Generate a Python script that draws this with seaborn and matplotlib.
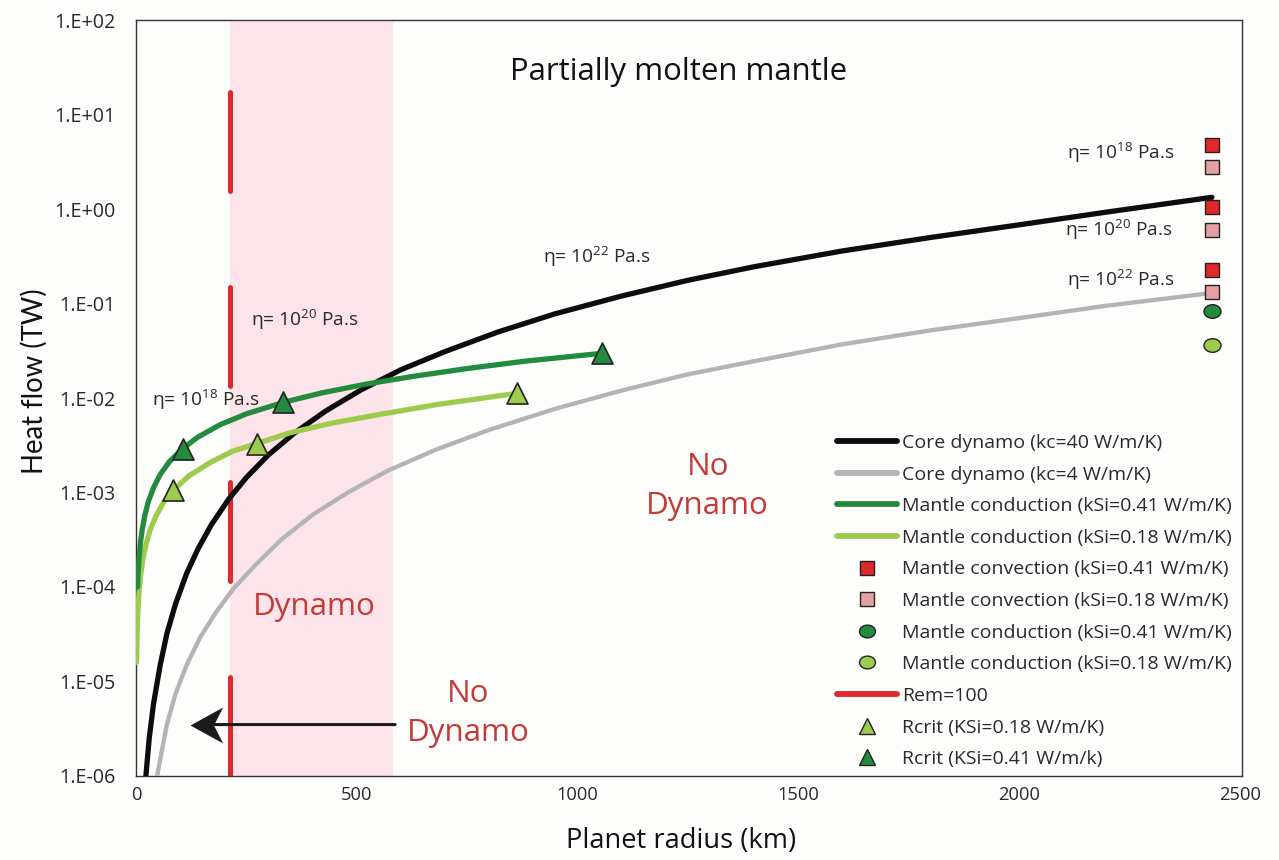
import numpy as np
import pandas as pd
import matplotlib
matplotlib.use("Agg")
import matplotlib.pyplot as plt
from matplotlib.lines import Line2D
from matplotlib.path import Path
from matplotlib.ticker import FixedLocator, FuncFormatter
import seaborn as sns

# ---- data -------------------------------------------------------------
# Core dynamo heat flow (TW) vs planet radius (km), kc = 40 W/m/K
core40_r = [20, 30, 40, 55, 70, 90, 115, 140, 170, 210, 250, 300, 360, 430, 510, 600,
            700, 820, 950, 1100, 1250, 1400, 1600, 1800, 2000, 2200, 2437]
core40_q = [7.4e-7, 2.5e-6, 5.9e-6, 1.5e-5, 3.2e-5, 6.7e-5, 1.4e-4, 2.5e-4, 4.5e-4,
            8.5e-4, 1.44e-3, 2.5e-3, 4.3e-3, 7.3e-3, 1.22e-2, 1.99e-2, 3.1e-2, 5.0e-2,
            7.8e-2, 0.12, 0.176, 0.245, 0.36, 0.50, 0.68, 0.93, 1.33]

# Core dynamo, kc = 4 W/m/K
core4_r = [45, 55, 70, 90, 115, 145, 180, 220, 270, 330, 400, 480, 570, 680, 800, 950,
           1100, 1250, 1400, 1600, 1800, 2000, 2200, 2430]
core4_q = [8.5e-7, 1.5e-6, 3.5e-6, 7.5e-6, 1.5e-5, 2.9e-5, 5.3e-5, 9.5e-5, 1.7e-4, 3.2e-4,
           5.8e-4, 1.0e-3, 1.7e-3, 2.85e-3, 4.6e-3, 7.7e-3, 1.2e-2, 1.78e-2, 2.45e-2,
           3.7e-2, 5.2e-2, 7.0e-2, 9.5e-2, 0.128]

# Mantle conduction, kSi = 0.41 W/m/K
cond41_r = [3.5, 5, 7, 10, 14, 20, 28, 40, 55, 75, 106, 140, 190, 250, 333, 420, 520, 630,
            750, 880, 1055]
cond41_q = [1.0e-4, 1.45e-4, 2.0e-4, 2.9e-4, 4.0e-4, 5.7e-4, 8.0e-4, 1.13e-3, 1.55e-3,
            2.1e-3, 2.92e-3, 3.85e-3, 5.2e-3, 6.8e-3, 8.97e-3, 1.13e-2, 1.4e-2, 1.7e-2,
            2.05e-2, 2.45e-2, 2.97e-2]

# Mantle conduction, kSi = 0.18 W/m/K
cond18_r = [1.3, 2, 3, 4.5, 7, 10, 15, 22, 32, 45, 62, 84, 120, 170, 220, 274, 350, 450,
            560, 680, 863]
cond18_q = [1.6e-5, 2.5e-5, 3.8e-5, 5.6e-5, 8.8e-5, 1.25e-4, 1.9e-4, 2.75e-4, 4.0e-4,
            5.6e-4, 7.8e-4, 1.05e-3, 1.5e-3, 2.1e-3, 2.75e-3, 3.3e-3, 4.3e-3, 5.5e-3,
            6.8e-3, 8.5e-3, 1.12e-2]

# Critical radius markers
rcrit18_r = [84, 274, 863]
rcrit18_q = [1.05e-3, 3.3e-3, 1.12e-2]
rcrit41_r = [106, 333, 1055]
rcrit41_q = [2.92e-3, 8.97e-3, 2.97e-2]

# Present-day planet (R = 2438 km): viscosity 1e18, 1e20, 1e22 Pa.s
planet_r = 2438
conv41_q = [4.74, 1.04, 0.225]
conv18_q = [2.77, 0.596, 0.131]
cond41_now_q = [0.0826]
cond18_now_q = [0.036]

# Magnetic Reynolds number Rem = 100 threshold
rem_r = 213
rem_q = [1.0e-6, 18.0]
# dynamo window
dyn_band = (213, 583)

y_ticks = [1e-6, 1e-5, 1e-4, 1e-3, 1e-2, 1e-1, 1e0, 1e1, 1e2]
x_ticks = [0, 500, 1000, 1500, 2000, 2500]

# ---- style ------------------------------------------------------------
sns.set_theme(style="white")
plt.rcParams["font.family"] = ["Open Sans", "DejaVu Sans"]
plt.rcParams["mathtext.fontset"] = "custom"
plt.rcParams["mathtext.rm"] = "Open Sans"
plt.rcParams["mathtext.it"] = "Open Sans:italic"
plt.rcParams["mathtext.bf"] = "Open Sans:bold"

BG = "#fdfdfb"
C_BLACK = "#0d0d0d"
C_GREY = "#b4b4b4"
C_DGREEN = "#238b3e"
C_LGREEN = "#9dcb4e"
C_RED = "#e0282a"
C_PINK = "#e6a0a3"
C_BAND = "#fce4ea"
C_TEXTRED = "#c23b37"
C_TEXT = "#2a2a2a"

fig = plt.figure(figsize=(12.79, 8.60), dpi=100, facecolor=BG)
ax = fig.add_axes([0.1063, 0.0977, 0.8647, 0.879])
ax.set_facecolor(BG)

ax.set_yscale("log")
ax.set_xlim(0, 2505)
ax.set_ylim(1e-6, 1e2)

ax.axvspan(*dyn_band, color=C_BAND, zorder=0, lw=0)

# Rem = 100 dashed vertical line
sns.lineplot(x=[rem_r, rem_r], y=rem_q, ax=ax, color=C_RED, lw=3.6,
             linestyle=(0, (19.8, 19.2)), dash_capstyle="round",
             sort=False, estimator=None, zorder=2)

# curves
for r, q, col, lw in [(core4_r, core4_q, C_GREY, 3.1),
                      (core40_r, core40_q, C_BLACK, 3.8),
                      (cond18_r, cond18_q, C_LGREEN, 3.8),
                      (cond41_r, cond41_q, C_DGREEN, 3.8)]:
    sns.lineplot(x=r, y=q, ax=ax, color=col, lw=lw, sort=False,
                 estimator=None, zorder=3, solid_capstyle="round",
                 solid_joinstyle="round")

# ellipse marker for present-day conduction values
ell = Path.unit_circle()
ell = Path(ell.vertices * np.array([1.25, 1.0]), ell.codes)

sq_kw = dict(marker="s", s=110, edgecolor="#222222", linewidth=1.0, zorder=5)
sns.scatterplot(x=[planet_r] * 3, y=conv41_q, ax=ax, color=C_RED, **sq_kw)
sns.scatterplot(x=[planet_r] * 3, y=conv18_q, ax=ax, color=C_PINK, **sq_kw)
ell_kw = dict(marker=ell, s=150, edgecolor="#222222", linewidth=1.0, zorder=5)
sns.scatterplot(x=[planet_r], y=cond41_now_q, ax=ax, color=C_DGREEN, **ell_kw)
sns.scatterplot(x=[planet_r], y=cond18_now_q, ax=ax, color=C_LGREEN, **ell_kw)

tri_kw = dict(marker="^", s=230, edgecolor="#222222", linewidth=1.2, zorder=6)
sns.scatterplot(x=rcrit18_r, y=rcrit18_q, ax=ax, color=C_LGREEN, **tri_kw)
sns.scatterplot(x=rcrit41_r, y=rcrit41_q, ax=ax, color=C_DGREEN, **tri_kw)

# arrow toward small radii: shaft plus a notched (stealth) head
arrow_y = 3.5e-6
arrow_from, arrow_to = 587, 122
ax.annotate("", xy=(arrow_to + 30, arrow_y), xytext=(arrow_from, arrow_y),
            arrowprops=dict(arrowstyle="-", lw=2.2, color="#1a1a1a",
                            shrinkA=0, shrinkB=0), zorder=6)
stealth = Path([(0, 0), (1.0, 0.55), (0.72, 0), (1.0, -0.55), (0, 0)],
               [Path.MOVETO, Path.LINETO, Path.LINETO, Path.LINETO, Path.CLOSEPOLY])
ax.plot([arrow_to], [arrow_y], marker=stealth, markersize=47, color="#1a1a1a",
        markeredgewidth=0, zorder=7)

# ---- text -------------------------------------------------------------
def eta(e):
    return r"η= 10$^{\mathregular{" + str(e) + r"}}$ Pa.s"

lab_kw = dict(fontsize=13.8, color=C_TEXT, va="center", ha="left")
ax.text(2108, 3.9, eta(18), **lab_kw)
ax.text(2104, 0.596, eta(20), **lab_kw)
ax.text(2108, 0.176, eta(22), **lab_kw)
ax.text(921, 0.308, eta(22), **lab_kw)
ax.text(261, 0.0664, eta(20), **lab_kw)
ax.text(37, 0.00944, eta(18), **lab_kw)

ax.text(1229, 28.1, "Partially molten mantle", fontsize=22.4, color="#111111",
        ha="center", va="center")
ax.text(404, 6.2e-5, "Dynamo", fontsize=22.6, color=C_TEXTRED, ha="center", va="center")
ax.text(1295, 1.15e-3, "No\nDynamo", fontsize=22.6, color=C_TEXTRED, ha="center",
        va="center", linespacing=1.38)
ax.text(753, 4.6e-6, "No\nDynamo", fontsize=22.6, color=C_TEXTRED, ha="center",
        va="center", linespacing=1.38)

# ---- axes -------------------------------------------------------------
ax.yaxis.set_major_locator(FixedLocator(y_ticks))
ax.yaxis.set_minor_locator(FixedLocator([]))
ax.yaxis.set_major_formatter(FuncFormatter(lambda v, p: f"1.E{int(round(np.log10(v))):+03d}"))
ax.xaxis.set_major_locator(FixedLocator(x_ticks))
ax.tick_params(axis="both", length=0, labelsize=13.2, colors=C_TEXT)
ax.tick_params(axis="y", pad=15, labelsize=14.2)
ax.tick_params(axis="x", pad=7)
for s in ax.spines.values():
    s.set_color("#333333")
    s.set_linewidth(1.0)

ax.set_xlabel("Planet radius (km)", fontsize=19.6, color="#111111", labelpad=17)
ax.xaxis.label.set_x(0.4928)
ax.set_ylabel("Heat flow (TW)", fontsize=19.8, color="#111111", labelpad=4.0,
              family=["Lato", "DejaVu Sans"])
ax.yaxis.label.set_y(0.5225)

# ---- legend -----------------------------------------------------------
def line_h(col):
    return Line2D([], [], color=col, lw=4.2, solid_capstyle="round")

def mark_h(m, col, ms):
    return Line2D([], [], ls="none", marker=m, markersize=ms, markerfacecolor=col,
                  markeredgecolor="#222222", markeredgewidth=1.0)

handles = [line_h(C_BLACK), line_h(C_GREY), line_h(C_DGREEN), line_h(C_LGREEN),
           mark_h("s", C_RED, 10), mark_h("s", C_PINK, 10),
           mark_h(ell, C_DGREEN, 11.5), mark_h(ell, C_LGREEN, 11.5),
           line_h(C_RED), mark_h("^", C_LGREEN, 11), mark_h("^", C_DGREEN, 11)]
labels = ["Core dynamo (kc=40 W/m/K)", "Core dynamo (kc=4 W/m/K)",
          "Mantle conduction (kSi=0.41 W/m/K)", "Mantle conduction (kSi=0.18 W/m/K)",
          "Mantle convection (kSi=0.41 W/m/K)", "Mantle convection (kSi=0.18 W/m/K)",
          "Mantle conduction (kSi=0.41 W/m/K)", "Mantle conduction (kSi=0.18 W/m/K)",
          "Rem=100", "Rcrit (KSi=0.18 W/m/K)", "Rcrit (KSi=0.41 W/m/k)"]
leg = ax.legend(handles, labels, loc="upper left", bbox_to_anchor=(0.6544, 1 - 434 / 860),
                bbox_transform=fig.transFigure, frameon=False, fontsize=14,
                handlelength=3.1, handletextpad=0.26, labelspacing=0.70, borderpad=0,
                borderaxespad=0)
for t in leg.get_texts():
    t.set_color(C_TEXT)

fig.savefig("out.png", dpi=100, facecolor=BG)
